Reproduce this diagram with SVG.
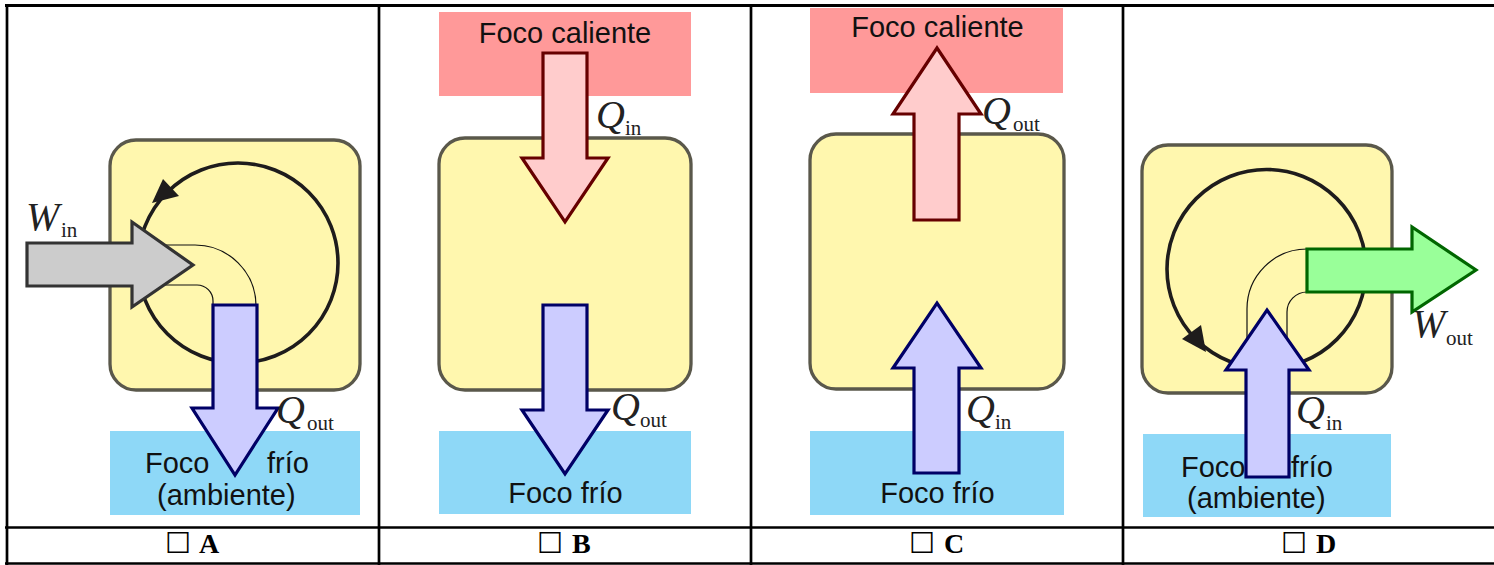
<svg xmlns="http://www.w3.org/2000/svg" width="1494" height="565" viewBox="0 0 1494 565">
<style>
.engine{fill:#fff7ae;stroke:#5a584b;stroke-width:3.3}
.cycle{fill:none;stroke:#1e1c1c;stroke-width:3.6}
.head{fill:#1e1c1c}
.hot{fill:#ff9999}
.cold{fill:#8ed8f7}
.pipe{fill:none;stroke:#111;stroke-width:1.2}
.ar-red{fill:#ffcccc;stroke:#660000;stroke-width:3.2;stroke-linejoin:miter}
.ar-blue{fill:#ccccff;stroke:#000066;stroke-width:3.2;stroke-linejoin:miter}
.ar-gray{fill:#cccccc;stroke:#333333;stroke-width:3.2;stroke-linejoin:miter}
.ar-green{fill:#99ff99;stroke:#006600;stroke-width:3.2;stroke-linejoin:miter}
.t{font-family:"Liberation Sans",Arial,sans-serif;font-size:29px;fill:#111}
.m{font-family:"Liberation Serif","Times New Roman",serif;font-style:italic;font-size:40px;fill:#222}
.s{font-family:"Liberation Serif","Times New Roman",serif;font-size:21px;fill:#222}
.lbl{font-family:"Liberation Serif","Times New Roman",serif;font-weight:bold;font-size:28px;fill:#000}
.box{font-family:"DejaVu Sans",sans-serif;font-weight:normal;font-size:29px}
.grid{stroke:#000;stroke-width:2.7;fill:none}
</style>

<g id="table">
<line class="grid" x1="5" y1="5.5" x2="1494" y2="5.5" style="stroke-width:3"/>
<line class="grid" x1="7" y1="4" x2="7" y2="565"/>
<line class="grid" x1="379" y1="4" x2="379" y2="565"/>
<line class="grid" x1="751" y1="4" x2="751" y2="565"/>
<line class="grid" x1="1123" y1="4" x2="1123" y2="565"/>
<line class="grid" x1="5" y1="527.5" x2="1494" y2="527.5"/>
<line class="grid" x1="5" y1="563.5" x2="1494" y2="563.5"/>
</g>

<!-- Panel A -->
<g id="a-engine">
<rect class="engine" x="110" y="140" width="250" height="250" rx="26"/>
<circle class="cycle" cx="238" cy="263" r="100"/>
<polygon class="head" points="152,203 163,179 179,196"/>
</g>
<g id="a-cold">
<rect class="cold" x="110" y="431" width="250" height="84"/>
<text class="t" y="473"><tspan x="145">Foco</tspan><tspan x="267">frío</tspan></text>
<text class="t" x="157" y="505">(ambiente)</text>
</g>

<!-- Panel B -->
<g id="b-hot">
<rect class="hot" x="439" y="12" width="252" height="84"/>
<text class="t" x="565" y="43" text-anchor="middle">Foco caliente</text>
</g>
<g id="b-engine">
<rect class="engine" x="439" y="138" width="252" height="252" rx="26"/>
</g>
<g id="b-cold">
<rect class="cold" x="439" y="431" width="252" height="83"/>
<text class="t" x="565.5" y="503" text-anchor="middle">Foco frío</text>
</g>

<!-- Panel C -->
<g id="c-hot">
<rect class="hot" x="810" y="8" width="253" height="85"/>
<text class="t" x="937.5" y="37" text-anchor="middle">Foco caliente</text>
</g>
<g id="c-engine">
<rect class="engine" x="810" y="134" width="254" height="255" rx="26"/>
</g>
<g id="c-cold">
<rect class="cold" x="810" y="431" width="254" height="84"/>
<text class="t" x="937.5" y="503" text-anchor="middle">Foco frío</text>
</g>

<!-- Panel D -->
<g id="d-engine">
<rect class="engine" x="1142" y="145" width="250" height="248" rx="26"/>
<circle class="cycle" cx="1266.5" cy="269" r="99.5"/>
<polygon class="head" points="1182,339 1201,325 1206,352"/>
</g>
<g id="d-cold">
<rect class="cold" x="1143" y="434" width="248" height="83"/>
<text class="t" y="477"><tspan x="1181">Foco</tspan><tspan x="1291">frío</tspan></text>
<text class="t" x="1187" y="508">(ambiente)</text>
</g>

<g id="connectors">
<!-- A -->
<path class="pipe" d="M150,245 H195 A61,61 0 0 1 256,306 V310"/>
<path class="pipe" d="M150,285 H197 A16,16 0 0 1 213,301 V310"/>
<polygon class="ar-gray" points="27,243 132,243 132,222 193,265 132,307 132,286 27,286"/>
<polygon class="ar-blue" points="213,305 257,305 257,408 278,408 235,475 192,408 213,408"/>
<!-- B -->
<polygon class="ar-red" points="543,53 587,53 587,158 608,158 565,222 522,158 543,158"/>
<polygon class="ar-blue" points="543,305 587,305 587,410 608,410 565,474 522,410 543,410"/>
<!-- C -->
<polygon class="ar-red" points="914,220 959,220 959,114 981,114 937,48 893,114 914,114"/>
<polygon class="ar-blue" points="914,473 959,473 959,368 981,368 937,303 893,368 914,368"/>
<!-- D -->
<path class="pipe" d="M1312,249 H1307 A60,60 0 0 0 1247,309 V345"/>
<path class="pipe" d="M1312,292 H1307 A20,20 0 0 0 1287,312 V345"/>
<polygon class="ar-green" points="1307,249 1412,249 1412,227 1476,270 1412,312 1412,292 1307,292"/>
<polygon class="ar-blue" points="1246,477 1289,477 1289,370 1309,370 1267,310 1226,370 1246,370"/>
<!-- labels -->
<text class="m" x="26" y="230">W</text><text class="s" x="61" y="237">in</text>
<text class="m" x="276" y="423">Q</text><text class="s" x="307" y="430">out</text>
<text class="m" x="596" y="128">Q</text><text class="s" x="625" y="135">in</text>
<text class="m" x="611" y="420">Q</text><text class="s" x="640" y="427">out</text>
<text class="m" x="982" y="124">Q</text><text class="s" x="1013" y="131">out</text>
<text class="m" x="966" y="422">Q</text><text class="s" x="995" y="429">in</text>
<text class="m" x="1296" y="423">Q</text><text class="s" x="1326" y="430">in</text>
<text class="m" x="1412" y="337">W</text><text class="s" x="1446" y="345">out</text>
</g>

<g id="labels">
<text class="lbl" y="553"><tspan class="box" x="165">☐</tspan><tspan x="199">A</tspan></text>
<text class="lbl" y="553"><tspan class="box" x="537">☐</tspan><tspan x="572">B</tspan></text>
<text class="lbl" y="553"><tspan class="box" x="909">☐</tspan><tspan x="944">C</tspan></text>
<text class="lbl" y="553"><tspan class="box" x="1281">☐</tspan><tspan x="1316">D</tspan></text>
</g>
</svg>
